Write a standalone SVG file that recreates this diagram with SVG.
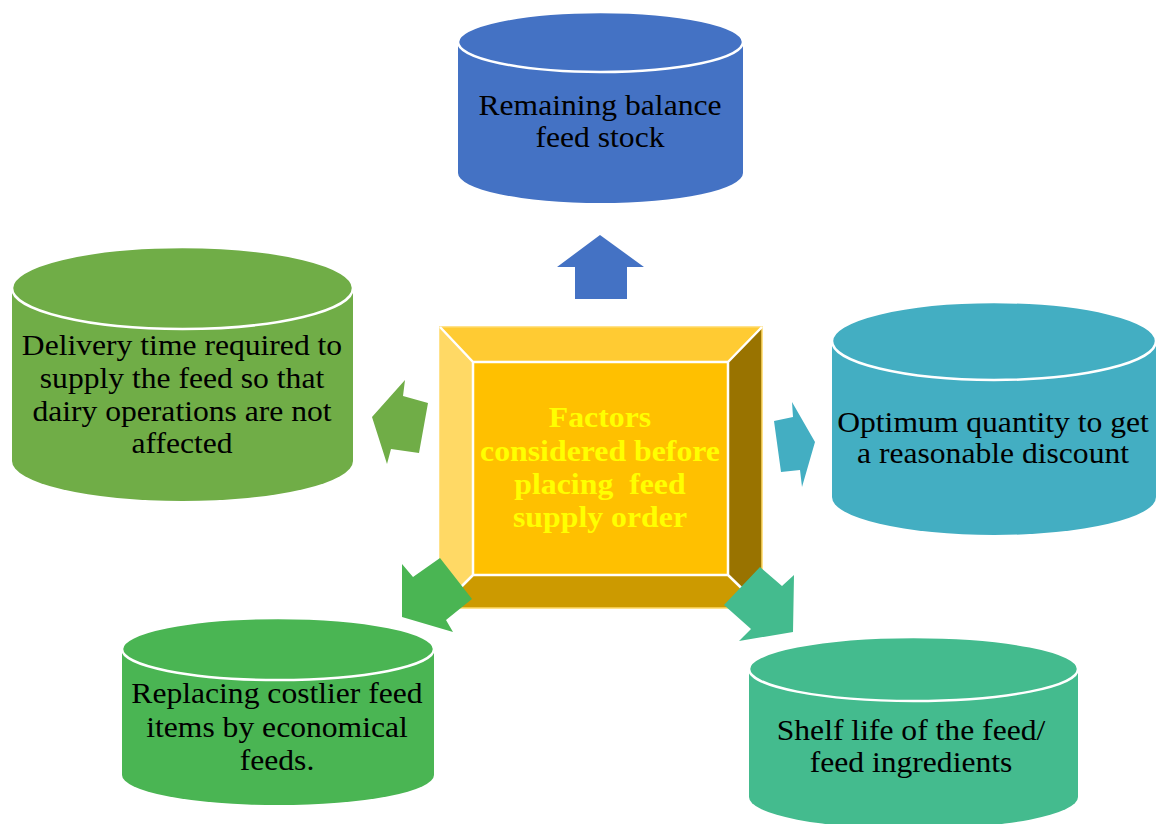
<svg xmlns="http://www.w3.org/2000/svg" width="1158" height="824" viewBox="0 0 1158 824">
<style>
.t{font-family:"Liberation Serif","Times New Roman",serif;font-size:29px;fill:#000;text-anchor:middle}
.c{font-family:"Liberation Serif","Times New Roman",serif;font-size:30px;font-weight:bold;fill:#FFFF00;text-anchor:middle;white-space:pre}
.lid{stroke:#fff;stroke-width:2.5}
.bev{stroke:#fff;stroke-width:2.5;fill:none}
</style>
<rect width="1158" height="824" fill="#fff"/>
<g id="node-remaining">
<path d="M458,42 A142.5,30 0 0 1 743,42 L743,173 A142.5,30 0 0 1 458,173 Z" fill="#4472C4"/>
<ellipse cx="600.5" cy="42" rx="142.5" ry="30" fill="#4472C4" class="lid"/>
<text class="t" transform="translate(600 0) scale(1.09 1)"><tspan x="0" y="115">Remaining balance</tspan><tspan x="0" y="147">feed stock</tspan></text>
</g>
<g id="node-delivery">
<path d="M12,288 A170.5,41 0 0 1 353,288 L353,461 A170.5,40 0 0 1 12,461 Z" fill="#70AD47"/>
<ellipse cx="182.5" cy="288" rx="170.5" ry="41" fill="#70AD47" class="lid"/>
<text class="t" transform="translate(182 0) scale(1.09 1)"><tspan x="0" y="355">Delivery time required to</tspan><tspan x="0" y="388">supply the feed so that</tspan><tspan x="0" y="421">dairy operations are not</tspan><tspan x="0" y="453">affected</tspan></text>
</g>
<g id="node-optimum">
<path d="M832,341 A162,39 0 0 1 1156,341 L1156,497 A162,38 0 0 1 832,497 Z" fill="#43AEC2"/>
<ellipse cx="994" cy="341" rx="162" ry="39" fill="#43AEC2" class="lid"/>
<text class="t" transform="translate(993 0) scale(1.09 1)"><tspan x="0" y="432">Optimum quantity to get</tspan><tspan x="0" y="463">a reasonable discount</tspan></text>
</g>
<g id="node-replacing">
<path d="M122,649 A156,31 0 0 1 434,649 L434,775 A156,30 0 0 1 122,775 Z" fill="#4AB553"/>
<ellipse cx="278" cy="649" rx="156" ry="31" fill="#4AB553" class="lid"/>
<text class="t" transform="translate(277 0) scale(1.09 1)"><tspan x="0" y="703">Replacing costlier feed</tspan><tspan x="0" y="737">items by economical</tspan><tspan x="0" y="770">feeds.</tspan></text>
</g>
<g id="node-shelf">
<path d="M749,669 A164.5,32 0 0 1 1078,669 L1078,797 A164.5,32 0 0 1 749,797 Z" fill="#44BB8E"/>
<ellipse cx="913.5" cy="669" rx="164.5" ry="32" fill="#44BB8E" class="lid"/>
<text class="t" transform="translate(911 0) scale(1.09 1)"><tspan x="0" y="740">Shelf life of the feed/</tspan><tspan x="0" y="772">feed ingredients</tspan></text>
</g>
<g id="node-center">
<polygon points="440,327 762,327 728,362 473,362" fill="#FFCB33"/>
<polygon points="440,327 473,362 473,575 440,608" fill="#FFD965"/>
<polygon points="762,327 762,608 728,575 728,362" fill="#997300"/>
<polygon points="440,608 762,608 728,575 473,575" fill="#CC9A00"/>
<rect x="473" y="362" width="255" height="213" fill="#FFC000"/>
<rect x="440" y="327" width="322" height="281" fill="none" stroke="#FFD966" stroke-width="1.5"/>
<path class="bev" d="M473,362 H728 V575 H473 Z M440,327 L473,362 M762,327 L728,362 M440,608 L473,575 M762,608 L728,575"/>
<text class="c" transform="translate(600 0) scale(1.06 1)"><tspan x="0" y="427">Factors</tspan><tspan x="0" y="461">considered before</tspan><tspan x="0" y="494">placing  feed</tspan><tspan x="0" y="527">supply order</tspan></text>
</g>
<g id="connectors">
<polygon points="600,235 644,267 627,267 627,299 575,299 575,267 557,267" fill="#4472C4"/>
<polygon points="405,380 403,396 428,403 419,453 391,449 387,464 372,417" fill="#70AD47"/>
<polygon points="792,402 793,417 774,421 781,472 800,470 802,487 815,442" fill="#43AEC2"/>
<polygon points="402,564 413,577 440,558 472,599 446,620 453,632 402,617" fill="#4AB553"/>
<polygon points="724,605 760,567 782,586 794,575 793,632 739,641 751,629" fill="#44BB8E"/>
</g>
</svg>
